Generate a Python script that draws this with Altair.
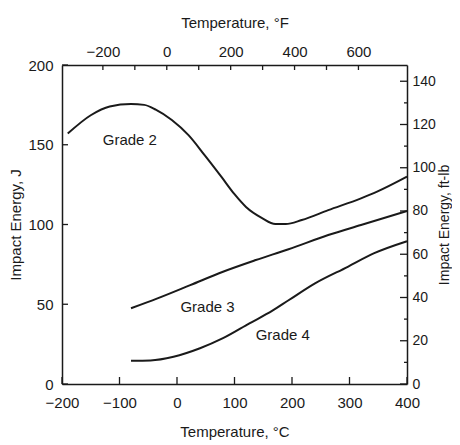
import altair as alt
import pandas as pd

# ---- data ----
grade2_c = [-190, -150, -117, -80, -57, -37, -9, 20, 48, 77, 100, 120, 148, 171, 189, 217, 263, 320, 348, 400]
grade2_j = [157, 168.5, 174, 175.5, 175, 172, 165.5, 156, 143.5, 130, 119, 111, 104, 100.3, 100.3, 102.8, 109, 116.4, 120.6, 130]

grade3_c = [-80, -34, 23, 80, 137, 194, 263, 320, 400]
grade3_j = [47.5, 53.7, 62, 70.4, 77.7, 84.5, 93.4, 99.7, 108.5]

grade4_c = [-80, -46, -6, 40, 80, 126, 166, 194, 240, 297, 343, 400]
grade4_j = [14.6, 14.8, 17.1, 22.4, 28.7, 38, 46, 52.5, 63.1, 73.5, 82, 89.5]

label_text = ["Grade 2", "Grade 3", "Grade 4"]
label_c = [-82, 53, 184]
label_j = [153, 48.5, 30.7]

c_ticks = [-200, -100, 0, 100, 200, 300, 400]
j_ticks = [0, 50, 100, 150, 200]
f_labels = [-200, 0, 200, 400, 600]
f_ticks = [-200, -100, 0, 100, 200, 300, 400, 500, 600]
lb_labels = [0, 20, 40, 60, 80, 100, 120, 140]
lb_minor = [10, 30, 50, 70, 90, 110, 130]

c_domain = [-200, 400]
j_domain = [0, 200]
f_domain = [-328, 752]          # -200 °C .. 400 °C in °F
lb_domain = [0, 147.51]         # 0 .. 200 J in ft-lb

W, H = 345, 319
FONT = "Liberation Sans"
INK = "#1a1a1a"

rows = []
for name, cs, js in [("Grade 2", grade2_c, grade2_j), ("Grade 3", grade3_c, grade3_j), ("Grade 4", grade4_c, grade4_j)]:
    for c, j in zip(cs, js):
        rows.append({"grade": name, "c": c, "j": j})
curves = pd.DataFrame(rows)
labels = pd.DataFrame({"t": label_text, "c": label_c, "j": label_j})

xs = alt.Scale(domain=c_domain, nice=False, zero=False)
ys = alt.Scale(domain=j_domain, nice=False, zero=False)

ax_bottom = alt.Axis(orient="bottom", values=c_ticks, ticks=False, tickSize=0, grid=False,
                     labelPadding=11, labelFlush=False, title="Temperature, °C", titlePadding=14)
ax_left = alt.Axis(orient="left", values=j_ticks, ticks=False, tickSize=0, grid=False,
                   labelPadding=9, labelFlush=False, title="Impact Energy, J", titlePadding=4)

X = alt.X("c:Q", scale=xs, axis=ax_bottom)
Y = alt.Y("j:Q", scale=ys, axis=ax_left)

lines = alt.Chart(curves).mark_line(color=INK, strokeWidth=2, interpolate="monotone").encode(
    x=X, y=Y, detail="grade:N"
)
texts = alt.Chart(labels).mark_text(font=FONT, fontSize=15, color=INK).encode(
    x=X, y=Y, text="t:N"
)
bt = alt.Chart(pd.DataFrame({"c": c_ticks})).mark_rule(color=INK, strokeWidth=1.3).encode(
    x=X, y=alt.value(H), y2=alt.value(H - 7)
)
lt = alt.Chart(pd.DataFrame({"j": j_ticks})).mark_rule(color=INK, strokeWidth=1.3).encode(
    y=Y, x=alt.value(0), x2=alt.value(6)
)
main = alt.layer(lines, texts, bt, lt)

fs = alt.Scale(domain=f_domain, nice=False, zero=False)
lbs = alt.Scale(domain=lb_domain, nice=False, zero=False)
ax_top = alt.Axis(orient="top", values=f_labels, ticks=False, tickSize=0, grid=False,
                  labelPadding=6, labelFlush=False, title="Temperature, °F", titlePadding=14)
ax_right = alt.Axis(orient="right", values=lb_labels, ticks=False, tickSize=0, grid=False,
                    labelPadding=5, labelFlush=False, labelFontSize=14, title="Impact Energy, ft-lb",
                    titleAngle=270, titleBaseline="top", titlePadding=2, titleFontSize=14)

tt = alt.Chart(pd.DataFrame({"f": f_ticks})).mark_rule(color=INK, strokeWidth=1.3).encode(
    x=alt.X("f:Q", scale=fs, axis=ax_top), y=alt.value(0), y2=alt.value(5)
)
rt = alt.Chart(pd.DataFrame({"lb": lb_labels})).mark_rule(color=INK, strokeWidth=1.3).encode(
    y=alt.Y("lb:Q", scale=lbs, axis=ax_right), x=alt.value(W), x2=alt.value(W - 7)
)
rtm = alt.Chart(pd.DataFrame({"lb": lb_minor})).mark_rule(color=INK, strokeWidth=1.3).encode(
    y=alt.Y("lb:Q", scale=lbs, axis=ax_right), x=alt.value(W), x2=alt.value(W - 3)
)
secondary = alt.layer(tt, rt, rtm)

chart = alt.layer(main, secondary).resolve_scale(x="independent", y="independent").properties(
    width=W, height=H,
    autosize=alt.AutoSizeParams(type="none"),
    padding={"left": 54, "top": 57, "right": 45, "bottom": 60},
    background="white",
).configure_axis(
    labelFont=FONT, titleFont=FONT, labelFontSize=15, titleFontSize=15,
    labelColor=INK, titleColor=INK, titleFontWeight="normal",
    domainColor=INK, domainWidth=1.5, labelOverlap=False,
).configure_view(strokeWidth=0)

chart.save("out.html", embed_options={"renderer": "svg", "actions": False})
